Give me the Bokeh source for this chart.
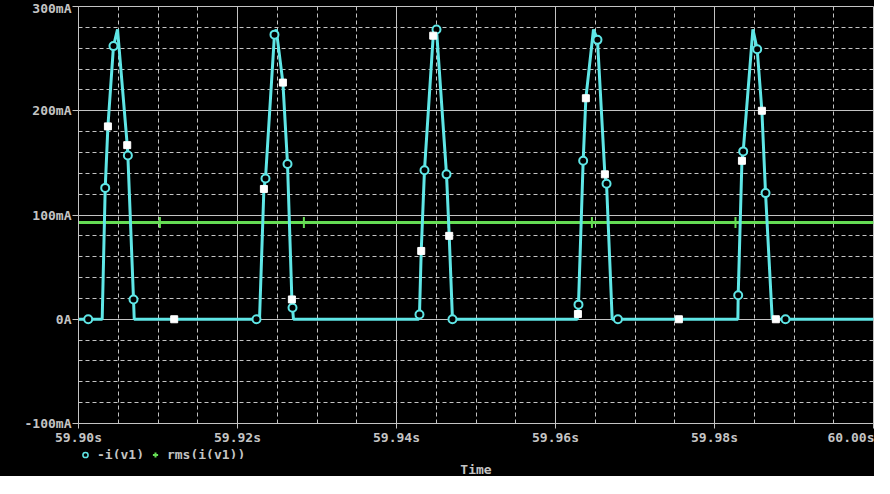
from bokeh.plotting import figure
from bokeh.layouts import column
from bokeh.models import Range1d, FixedTicker, Legend, LegendItem, Title
from bokeh.embed import file_html
from bokeh.resources import INLINE

# -i(v1) trace, time in s, current in mA
trace_t = [59.90000, 59.90298, 59.90336, 59.90370, 59.90440, 59.90491, 59.90613, 59.90621, 59.90692, 59.90701,
           59.92277, 59.92332, 59.92352, 59.92465, 59.92487, 59.92571, 59.92629, 59.92684, 59.92692, 59.92704,
           59.94279, 59.94289, 59.94311, 59.94352, 59.94462, 59.94503, 59.94629, 59.94663, 59.94704,
           59.96273, 59.96282, 59.96289, 59.96348, 59.96382, 59.96478, 59.96528, 59.96621, 59.96642, 59.96713,
           59.98294, 59.98298, 59.98345, 59.98361, 59.98483, 59.98537, 59.98596, 59.98642, 59.98726, 60.00000]
trace_i = [0, 0, 126, 185, 262, 278, 167, 157, 19, 0,
           0, 125, 135, 273, 278, 227, 149, 19, 11, 0,
           0, 4.5, 65.5, 143, 272, 278, 139, 80, 0,
           0, 5, 14, 152, 212, 278, 268, 139, 130, 0,
           0, 23, 152, 161, 278, 259, 200, 121, 0, 0]

# trace symbol (circles)
circ_t = [59.90122, 59.90336, 59.90440, 59.90621, 59.90692,
          59.92239, 59.92352, 59.92465, 59.92629, 59.92692,
          59.94289, 59.94352, 59.94503, 59.94629, 59.94704,
          59.96289, 59.96348, 59.96528, 59.96642, 59.96785,
          59.98298, 59.98361, 59.98537, 59.98642, 59.98893]
circ_i = [0, 126, 262, 157, 19,
          0, 135, 273, 149, 11,
          4.5, 143, 278, 139, 0,
          14, 152, 268, 130, 0,
          23, 161, 259, 121, 0]

# data points (squares)
sq_t = [59.90370, 59.90613, 59.91204, 59.92332, 59.92571, 59.92684, 59.94311, 59.94462,
        59.94663, 59.96282, 59.96382, 59.96621, 59.97552, 59.98345, 59.98596, 59.98772]
sq_i = [185, 167, 0, 125, 227, 19, 65.5, 272, 80, 5, 212, 139, 0, 152, 200, 0]

# rms(i(v1))
rms_t = [59.90, 60.00]
rms_i = [92.8, 92.8]
rms_mark_t = [59.91024, 59.92835, 59.94657, 59.96458, 59.98264]
rms_mark_i = [92.8, 92.8, 92.8, 92.8, 92.8]

x_ticks = [59.90, 59.92, 59.94, 59.96, 59.98, 60.00]
x_labels = ["59.90s", "59.92s", "59.94s", "59.96s", "59.98s", "60.00s"]
x_minor = [59.905, 59.91, 59.915, 59.925, 59.93, 59.935, 59.945, 59.95, 59.955,
           59.965, 59.97, 59.975, 59.985, 59.99, 59.995]
y_ticks = [-100, 0, 100, 200, 300]
y_labels = ["-100mA", "0A", "100mA", "200mA", "300mA"]
y_minor = [-80, -60, -40, -20, 20, 40, 60, 80, 120, 140, 160, 180, 220, 240, 260, 280]

FONT = "DejaVu Sans Mono"
GREY = "#c4c4c4"
CYAN = "#5fe6e6"
GREEN = "#66dd55"

x_range = Range1d(59.90, 60.00)

p = figure(frame_width=795, frame_height=417, output_backend="svg", toolbar_location=None,
           x_range=x_range, y_range=Range1d(-100, 300),
           background_fill_color="black", border_fill_color="black",
           min_border_left=78, min_border_right=1, min_border_top=6, min_border_bottom=0)
p.outline_line_color = GREY
p.styles = {"background-color": "black"}

for ax in (p.xaxis[0], p.yaxis[0]):
    ax.axis_line_color = GREY
    ax.major_tick_line_color = GREY
    ax.major_tick_in = 0
    ax.minor_tick_line_color = None
    ax.major_label_text_font = FONT
    ax.major_label_text_font_size = "13px"
    ax.major_label_text_font_style = "bold"
    ax.major_label_text_color = GREY

p.xaxis[0].ticker = FixedTicker(ticks=x_ticks, minor_ticks=x_minor)
p.xaxis[0].major_label_overrides = dict(zip(x_ticks, x_labels))
p.xaxis[0].major_tick_out = 5
p.xaxis[0].major_label_standoff = 1
p.yaxis[0].ticker = FixedTicker(ticks=y_ticks, minor_ticks=y_minor)
p.yaxis[0].major_label_overrides = dict(zip(y_ticks, y_labels))
p.yaxis[0].major_tick_out = 6
p.yaxis[0].major_label_standoff = 1

for g in (p.xgrid[0], p.ygrid[0]):
    g.grid_line_color = GREY
    g.minor_grid_line_color = GREY
    g.minor_grid_line_dash = "4 3"

p.line(rms_t, rms_i, color=GREEN, line_width=3)
p.scatter(rms_mark_t, rms_mark_i, marker="cross", size=11, line_color=GREEN, line_width=2)
p.line(trace_t, trace_i, color=CYAN, line_width=3)
p.scatter(circ_t, circ_i, marker="circle", size=8, line_color=CYAN, fill_color="black", line_width=2)
p.scatter(sq_t, sq_i, marker="square", size=7, line_color="white", fill_color="white")

# strip under the plot: legend row and "Time" caption (its markers lie out of view)
p2 = figure(width=874, height=29, output_backend="svg", toolbar_location=None,
            x_range=x_range, y_range=Range1d(1000, 1001), x_axis_type=None, y_axis_type=None,
            background_fill_color="black", border_fill_color="black",
            min_border_left=75, min_border_right=1, min_border_top=0, min_border_bottom=0)
p2.outline_line_color = None
p2.styles = {"background-color": "black"}
leg_circ = p2.scatter(circ_t, circ_i, marker="circle", size=8, line_color=CYAN, fill_color="black", line_width=1.5)
leg_rms = p2.scatter(rms_mark_t, rms_mark_i, marker="cross", size=11, line_color=GREEN, line_width=2)

legend = Legend(items=[LegendItem(label="-i(v1)", renderers=[leg_circ]),
                       LegendItem(label="rms(i(v1))", renderers=[leg_rms])],
                orientation="horizontal", location="top_left", margin=0, padding=0,
                glyph_width=14, glyph_height=13, label_height=13, label_width=10,
                label_standoff=5, spacing=4,
                label_text_font=FONT, label_text_font_size="13px", label_text_font_style="bold",
                label_text_color=GREY, background_fill_alpha=0, border_line_color=None)
p2.add_layout(legend, "center")
p2.add_layout(Title(text="Time", align="center", text_font=FONT, text_font_size="13px",
                    text_font_style="bold", text_color=GREY, standoff=0, offset=0), "below")

page = column(p, p2, spacing=0)
page.styles = {"background-color": "black"}
open("out.html", "w").write(file_html(page, INLINE))
